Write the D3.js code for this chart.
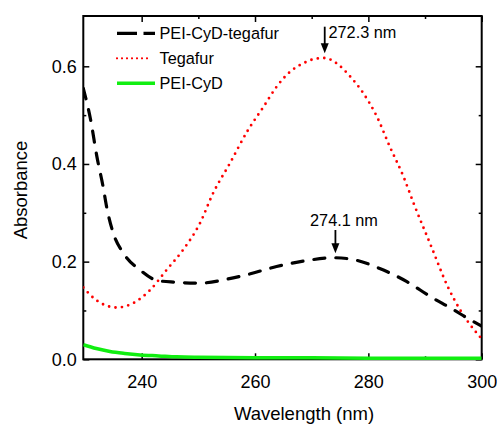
<!DOCTYPE html>
<html><head><meta charset="utf-8">
<script src="https://cdn.jsdelivr.net/npm/d3@7"></script>
<style>body{margin:0;background:#fff}svg{display:block}text{font-family:Arial,"Liberation Sans",sans-serif;fill:#000}</style>
</head><body><svg id="c" width="497" height="424"></svg>
<script>
const tegafurW = [229.7,232,235.6,238.5,241.5,244.4,247.3,250.3,252.6,255.5,258.8,261.5,263.8,266.2,268.5,270.5,272.3,274.4,276.8,279.1,281.5,283.8,286.2,288,291.1,294,296.2,299.4,300];
const tegafurV = [0.147,0.121,0.106,0.115,0.142,0.183,0.224,0.279,0.34,0.40,0.47,0.517,0.558,0.589,0.606,0.615,0.617,0.606,0.579,0.545,0.497,0.435,0.374,0.319,0.231,0.149,0.101,0.050,0.042];
const complexW = [229.7,231,232.1,233.2,233.8,235,236.8,239.7,242.6,245.6,250.3,255,258.5,263.8,268.5,274.1,277.8,282,286.8,291,295.1,297.5,300];
const complexV = [0.555,0.49,0.415,0.353,0.313,0.258,0.217,0.183,0.162,0.158,0.156,0.164,0.173,0.190,0.201,0.208,0.203,0.186,0.159,0.128,0.101,0.084,0.068];
const peiW = [229.7,232,234.4,237,239.7,243,246.2,250,260,270,280,290,300];
const peiV = [0.030,0.022,0.016,0.012,0.009,0.007,0.005,0.004,0.003,0.003,0.002,0.002,0.002];
const seriesNames = ["PEI-CyD-tegafur","Tegafur","PEI-CyD"];
const xMajor = [240,260,280,300], xMinor = [250,270,290];
const yMajor = [0,0.2,0.4,0.6], yMinor = [0.1,0.3,0.5];
const yLabels = ["0.0","0.2","0.4","0.6"];
const peaks = [{w:272.3, v:0.617, label:"272.3 nm"},{w:274.1, v:0.208, label:"274.1 nm"}];

const svg = d3.select("#c");
const L=83.3,R=481.7,T=16,B=359.3;
const x = d3.scaleLinear().domain([229.7,300]).range([L,R]);
const y = d3.scaleLinear().domain([0,0.703]).range([B,T]);

svg.append("defs").append("clipPath").attr("id","clip").append("rect")
  .attr("x",L).attr("y",T-2).attr("width",R-L).attr("height",B-T+4);

// axes
const g = svg.append("g");
const bottom = d3.axisBottom(x).tickValues(xMajor).tickSize(-6).tickPadding(16).tickFormat(d3.format("d"));
g.append("g").attr("transform",`translate(0,${B})`).call(bottom);
g.append("g").attr("transform",`translate(0,${B})`).call(d3.axisBottom(x).tickValues(xMinor).tickSize(-3).tickFormat(""));
g.append("g").attr("transform",`translate(0,${T})`).call(d3.axisTop(x).tickValues(xMajor).tickSize(-6).tickFormat(""));
g.append("g").attr("transform",`translate(0,${T})`).call(d3.axisTop(x).tickValues(xMinor).tickSize(-3).tickFormat(""));
const left = d3.axisLeft(y).tickValues(yMajor).tickSize(-6).tickPadding(6.5).tickFormat((d,i)=>yLabels[i]);
g.append("g").attr("transform",`translate(${L},0)`).call(left);
g.append("g").attr("transform",`translate(${L},0)`).call(d3.axisLeft(y).tickValues(yMinor).tickSize(-3).tickFormat(""));
g.append("g").attr("transform",`translate(${R},0)`).call(d3.axisRight(y).tickValues(yMajor).tickSize(-6).tickFormat(""));
g.append("g").attr("transform",`translate(${R},0)`).call(d3.axisRight(y).tickValues(yMinor).tickSize(-3).tickFormat(""));
g.selectAll(".domain").remove();
g.selectAll(".tick line").attr("stroke","#000").attr("stroke-width",1.5);
g.selectAll(".tick text").attr("font-size",18).style("font-family",'Arial,"Liberation Sans",sans-serif');
svg.append("rect").attr("x",L).attr("y",T).attr("width",R-L).attr("height",B-T)
  .attr("fill","none").attr("stroke","#000").attr("stroke-width",2);

// curves
const line = d3.line().x(d=>x(d[0])).y(d=>y(d[1])).curve(d3.curveMonotoneX);
const plot = svg.append("g").attr("clip-path","url(#clip)");
plot.append("path").datum(peiW.map((w,i)=>[w,peiV[i]])).attr("d",line)
  .attr("fill","none").attr("stroke","#11ee11").attr("stroke-width",3.5);
plot.append("path").datum(tegafurW.map((w,i)=>[w,tegafurV[i]])).attr("d",line)
  .attr("fill","none").attr("stroke","#ff0000").attr("stroke-width",2.8)
  .attr("stroke-linecap","round").attr("stroke-dasharray","0 6.5");
plot.append("path").datum(complexW.map((w,i)=>[w,complexV[i]])).attr("d",line)
  .attr("fill","none").attr("stroke","#000").attr("stroke-width",3.2)
  .attr("stroke-linecap","round").attr("stroke-dasharray","11 11");

// legend
const lg = svg.append("g");
const rows = [33.3,58.3,83.3];
lg.append("line").attr("x1",117).attr("x2",155).attr("y1",rows[0]).attr("y2",rows[0])
  .attr("stroke","#000").attr("stroke-width",3.2).attr("stroke-dasharray","20 6.5");
lg.append("line").attr("x1",117).attr("x2",152).attr("y1",rows[1]).attr("y2",rows[1])
  .attr("stroke","#ff0000").attr("stroke-width",2.2).attr("stroke-linecap","round").attr("stroke-dasharray","0 5");
lg.append("line").attr("x1",117).attr("x2",155).attr("y1",rows[2]).attr("y2",rows[2])
  .attr("stroke","#11ee11").attr("stroke-width",3.5);
seriesNames.forEach((n,i)=>lg.append("text").attr("x",159.5).attr("y",rows[i]).attr("dy","0.35em").attr("font-size",16.3).text(n));

// peak annotations
const arrowSpecs = [{top:26.7,tip:53.3,tx:328.5,ty:32.5,anchor:"start"},{top:230,tip:253.3,tx:344,ty:220.7,anchor:"middle"}];
peaks.forEach((p,i)=>{
  const s = arrowSpecs[i];
  const ax = i===0 ? x(p.w) : x(p.w)+0.5;
  svg.append("line").attr("x1",ax).attr("x2",ax).attr("y1",s.top).attr("y2",s.tip-8).attr("stroke","#000").attr("stroke-width",1.8);
  svg.append("path").attr("d",`M${ax-4},${s.tip-10}L${ax+4},${s.tip-10}L${ax},${s.tip}Z`).attr("fill","#000");
  svg.append("text").attr("x",s.tx).attr("y",s.ty).attr("dy","0.35em").attr("text-anchor",s.anchor).attr("font-size",16.3).text(p.label);
});

// axis titles
svg.append("text").attr("x",304).attr("y",413.5).attr("dy","0.35em").attr("text-anchor","middle").attr("font-size",18.5).text("Wavelength (nm)");
svg.append("text").attr("transform","translate(21,190) rotate(-90)").attr("dy","0.35em").attr("text-anchor","middle").attr("font-size",18.5).text("Absorbance");
</script></body></html>
